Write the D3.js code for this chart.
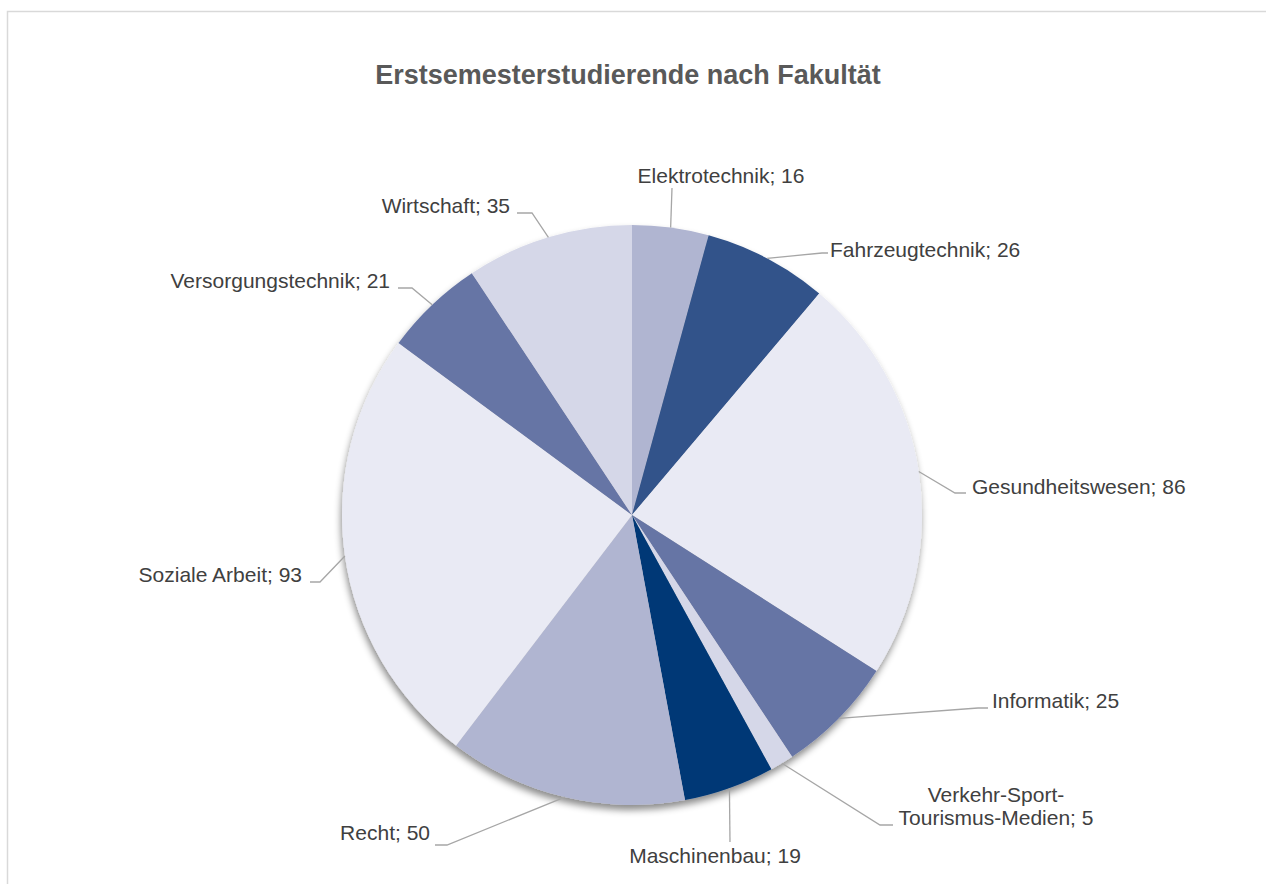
<!DOCTYPE html>
<html>
<head>
<meta charset="utf-8">
<script src="https://cdn.jsdelivr.net/npm/d3@7"></script>
<style>
    html, body { margin: 0; padding: 0; background: #ffffff; }
    svg { display: block; }
</style>
</head>
<body>
<svg id="canvas" width="1266" height="884"></svg>
<script>
    "use strict";

    // Data
    var faculties = ["Elektrotechnik", "Fahrzeugtechnik", "Gesundheitswesen", "Informatik",
        "Verkehr-Sport-Tourismus-Medien", "Maschinenbau", "Recht", "Soziale Arbeit",
        "Versorgungstechnik", "Wirtschaft"];
    var students = [16, 26, 86, 25, 5, 19, 50, 93, 21, 35];
    var sliceColors = ["#b0b5d1", "#30528a", "#e9eaf4", "#6675a5", "#d5d7e8",
        "#003876", "#b0b5d1", "#e9eaf4", "#6675a5", "#d5d7e8"];

    // Label layout: elbow point, end of the short leg, text anchor and text lines
    var labelLayout = [
        { elbow: [672, 188], leg: null, tx: 721, ty: 183, anchor: "middle" },
        { elbow: [822, 253], leg: [828, 253], tx: 830, ty: 257, anchor: "start" },
        { elbow: [955, 493], leg: [966, 493], tx: 972, ty: 494, anchor: "start" },
        { elbow: [978, 708], leg: [988, 708], tx: 992, ty: 708, anchor: "start" },
        { elbow: [880, 825], leg: [893, 825], tx: 996, ty: 802, anchor: "middle", lines: ["Verkehr-Sport-", "Tourismus-Medien; 5"] },
        { elbow: [730, 842], leg: null, tx: 715, ty: 863, anchor: "middle" },
        { elbow: [447, 845], leg: [435, 845], tx: 430, ty: 840, anchor: "end" },
        { elbow: [320, 582], leg: [310, 582], tx: 302, ty: 582, anchor: "end" },
        { elbow: [412, 288], leg: [398, 288], tx: 390, ty: 288, anchor: "end" },
        { elbow: [532, 213], leg: [517, 213], tx: 510, ty: 213, anchor: "end" }
    ];

    var CX = 632;
    var CY = 515;
    var RADIUS = 290;

    var svg = d3.select(document.getElementById("canvas"));

    // Chart border (runs off the right and bottom of the picture)
    svg.append("rect")
        .attr("x", 7.5)
        .attr("y", 11.5)
        .attr("width", 1300)
        .attr("height", 900)
        .attr("fill", "#ffffff")
        .attr("stroke", "#d9d9d9")
        .attr("stroke-width", 1.5);

    var defs = svg.append("defs");
    var shadow = defs.append("filter")
        .attr("id", "pieShadow")
        .attr("x", "-10%").attr("y", "-10%")
        .attr("width", "120%").attr("height", "120%");
    shadow.append("feDropShadow")
        .attr("dx", -1)
        .attr("dy", 5)
        .attr("stdDeviation", 3.5)
        .attr("flood-color", "#000000")
        .attr("flood-opacity", 0.45);

    // Title
    svg.append("text")
        .attr("x", 628)
        .attr("y", 84)
        .attr("text-anchor", "middle")
        .attr("font-family", "'Liberation Sans', Arial, sans-serif")
        .attr("font-size", "27px")
        .attr("font-weight", "bold")
        .attr("fill", "#595959")
        .text("Erstsemesterstudierende nach Fakultät");

    var pie = d3.pie()
        .sort(null)
        .value(function(d) { return d; });
    var arcs = pie(students);

    var arc = d3.arc()
        .innerRadius(0)
        .outerRadius(RADIUS);

    var pieGroup = svg.append("g")
        .attr("transform", "translate(" + CX + "," + CY + ")")
        .attr("filter", "url(#pieShadow)");

    pieGroup.selectAll("path")
        .data(arcs)
        .enter()
        .append("path")
        .attr("d", arc)
        .attr("fill", function(d, i) { return sliceColors[i]; });

    // Leader lines start on the rim at the middle of each slice
    function rimPoint(d) {
        var a = (d.startAngle + d.endAngle) / 2;
        return [CX + RADIUS * Math.sin(a), CY - RADIUS * Math.cos(a)];
    }

    var leaders = svg.append("g");
    leaders.selectAll("polyline")
        .data(arcs)
        .enter()
        .append("polyline")
        .attr("points", function(d, i) {
            var layout = labelLayout[i];
            var pts = [rimPoint(d), layout.elbow];
            if (layout.leg) {
                pts.push(layout.leg);
            }
            return pts.map(function(p) { return p[0] + "," + p[1]; }).join(" ");
        })
        .attr("fill", "none")
        .attr("stroke", "#a6a6a6")
        .attr("stroke-width", 1.3);

    var labels = svg.append("g")
        .attr("font-family", "'Liberation Sans', Arial, sans-serif")
        .attr("font-size", "21px")
        .attr("fill", "#404040");

    labels.selectAll("text")
        .data(arcs)
        .enter()
        .append("text")
        .attr("x", function(d, i) { return labelLayout[i].tx; })
        .attr("y", function(d, i) { return labelLayout[i].ty; })
        .attr("text-anchor", function(d, i) { return labelLayout[i].anchor; })
        .each(function(d, i) {
            var layout = labelLayout[i];
            var lines = layout.lines || [faculties[i] + "; " + students[i]];
            var text = d3.select(this);
            lines.forEach(function(line, k) {
                text.append("tspan")
                    .attr("x", layout.tx)
                    .attr("dy", k === 0 ? 0 : 23)
                    .text(line);
            });
        });
</script>
</body>
</html>
